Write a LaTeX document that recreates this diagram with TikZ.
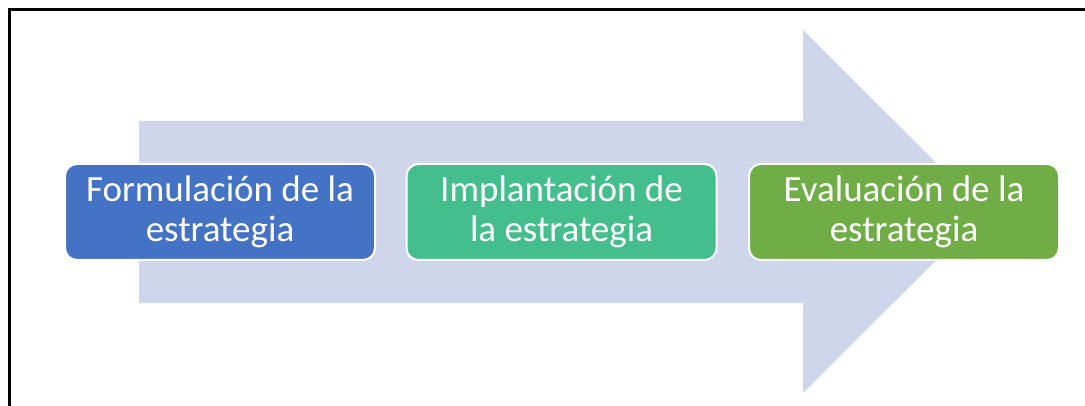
\documentclass[tikz,border=0pt]{standalone}
\usepackage{fontspec}
\setmainfont{Carlito}
\definecolor{arrowfill}{HTML}{CFD5EA}
\definecolor{boxblue}{HTML}{4472C4}
\definecolor{boxteal}{HTML}{44BE8C}
\definecolor{boxgreen}{HTML}{70AD47}
\tikzset{
  stage/.style={rectangle, rounded corners=12pt, draw=white, line width=2pt,
    minimum width=310pt, minimum height=96pt, text=white, align=center,
    inner sep=0pt, font=\fontsize{37pt}{40pt}\selectfont},
  frameline/.style={draw=black, line width=3pt}
}
\begin{document}
\begin{tikzpicture}[x=1pt,y=-1pt]
\useasboundingbox (0,0) rectangle (1085,406);
\fill[white] (0,0) rectangle (1085,406);
\draw[frameline] (9.5,406) -- (9.5,9.5) -- (1085,9.5);
\fill[arrowfill] (139,121) -- (803,121) -- (803,30) -- (985,211.5) -- (803,393) -- (803,303) -- (139,303) -- cycle;
\node[stage, fill=boxblue] (s1) at (220,212) {Formulación de la\\estrategia};
\node[stage, fill=boxteal] (s2) at (561.5,212) {Implantación de\\la estrategia};
\node[stage, fill=boxgreen] (s3) at (904,212) {Evaluación de la\\estrategia};
\end{tikzpicture}
\end{document}
